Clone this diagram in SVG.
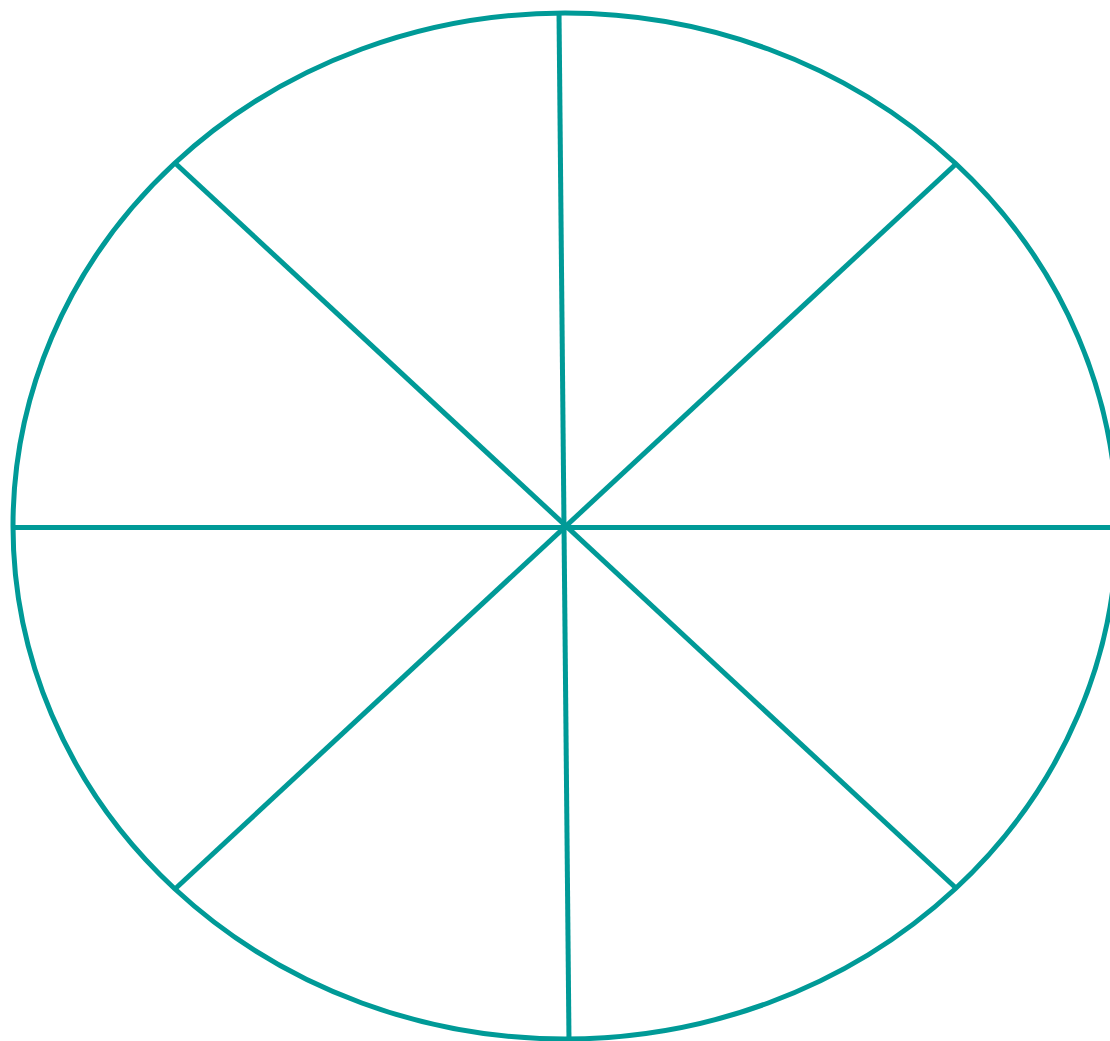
<svg xmlns="http://www.w3.org/2000/svg" width="1110" height="1041" viewBox="0 0 1110 1041">
<style>
.s{fill:none;stroke:#009a97;stroke-width:5}
</style>
<rect width="1110" height="1041" fill="#ffffff"/>
<g id="wheel">
<ellipse class="s" cx="565" cy="526" rx="552" ry="513"/>
</g>
<g id="connectors">
<line class="s" x1="559" y1="12" x2="569" y2="1041"/>
<line class="s" x1="13" y1="527.5" x2="1110" y2="527.5"/>
<line class="s" x1="175" y1="163" x2="957" y2="889"/>
<line class="s" x1="957" y1="163" x2="175" y2="889"/>
</g>
</svg>
